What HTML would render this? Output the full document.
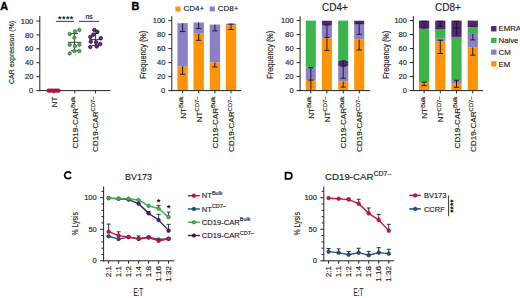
<!DOCTYPE html>
<html><head><meta charset="utf-8"><style>
html,body{margin:0;padding:0;background:#fff;overflow:hidden;width:520px;height:298px;}
svg{display:block;}
text{font-family:"Liberation Sans", sans-serif;}
text.n{stroke:#222;stroke-width:0.16px;}
</style></head><body>
<svg width="520" height="298" viewBox="0 0 520 298" font-family='"Liberation Sans", sans-serif'>
<rect width="520" height="298" fill="#fff"/>
<text x="0.20" y="9.50" font-size="10.8" text-anchor="start" font-weight="bold" fill="#000" stroke="#000" stroke-width="0.35">A</text>
<text x="131.60" y="9.60" font-size="10.8" text-anchor="start" font-weight="bold" fill="#000" stroke="#000" stroke-width="0.35">B</text>
<path d="M70.55,172.85 A3.45,3.45 0 1 0 70.55,177.65" fill="none" stroke="#000" stroke-width="1.75" stroke-linecap="round"/>
<path d="M285.55,172.7 H288.8 A3.05,3.05 0 0 1 288.8,178.8 H285.55 Z" fill="none" stroke="#000" stroke-width="1.75"/>
<line x1="39.80" y1="16.00" x2="39.80" y2="91.10" stroke="#222" stroke-width="1.0"/>
<line x1="39.30" y1="90.60" x2="110.40" y2="90.60" stroke="#222" stroke-width="1.0"/>
<line x1="36.30" y1="90.60" x2="39.80" y2="90.60" stroke="#222" stroke-width="1.0"/>
<text class="n" x="33.30" y="93.20" font-size="8.0" text-anchor="end" font-weight="normal" fill="#222" textLength="4.2" lengthAdjust="spacingAndGlyphs">0</text>
<line x1="36.30" y1="76.68" x2="39.80" y2="76.68" stroke="#222" stroke-width="1.0"/>
<text class="n" x="33.30" y="79.28" font-size="8.0" text-anchor="end" font-weight="normal" fill="#222" textLength="8.3" lengthAdjust="spacingAndGlyphs">20</text>
<line x1="36.30" y1="62.76" x2="39.80" y2="62.76" stroke="#222" stroke-width="1.0"/>
<text class="n" x="33.30" y="65.36" font-size="8.0" text-anchor="end" font-weight="normal" fill="#222" textLength="8.3" lengthAdjust="spacingAndGlyphs">40</text>
<line x1="36.30" y1="48.84" x2="39.80" y2="48.84" stroke="#222" stroke-width="1.0"/>
<text class="n" x="33.30" y="51.44" font-size="8.0" text-anchor="end" font-weight="normal" fill="#222" textLength="8.3" lengthAdjust="spacingAndGlyphs">60</text>
<line x1="36.30" y1="34.92" x2="39.80" y2="34.92" stroke="#222" stroke-width="1.0"/>
<text class="n" x="33.30" y="37.52" font-size="8.0" text-anchor="end" font-weight="normal" fill="#222" textLength="8.3" lengthAdjust="spacingAndGlyphs">80</text>
<line x1="36.30" y1="21.00" x2="39.80" y2="21.00" stroke="#222" stroke-width="1.0"/>
<text class="n" x="33.30" y="23.60" font-size="8.0" text-anchor="end" font-weight="normal" fill="#222" textLength="12.5" lengthAdjust="spacingAndGlyphs">100</text>
<line x1="53.90" y1="90.60" x2="53.90" y2="93.40" stroke="#222" stroke-width="1.0"/>
<line x1="74.80" y1="90.60" x2="74.80" y2="93.40" stroke="#222" stroke-width="1.0"/>
<line x1="95.40" y1="90.60" x2="95.40" y2="93.40" stroke="#222" stroke-width="1.0"/>
<text class="n" transform="translate(13.8,52.4) rotate(-90)" font-size="8.0" text-anchor="middle" fill="#222" textLength="63.0" lengthAdjust="spacingAndGlyphs">CAR expression (%)</text>
<text class="n" transform="translate(56.80,96.60) rotate(-90)" font-size="8.1" text-anchor="end" fill="#222">NT</text>
<text class="n" transform="translate(77.60,96.60) rotate(-90)" font-size="8.1" text-anchor="end" fill="#222">CD19-CAR<tspan font-size="5.83" dy="-2.92">Bulk</tspan></text>
<text class="n" transform="translate(98.20,96.60) rotate(-90)" font-size="8.1" text-anchor="end" fill="#222">CD19-CAR<tspan font-size="5.83" dy="-2.92">CD7–</tspan></text>
<line x1="55.90" y1="21.40" x2="73.90" y2="21.40" stroke="#222" stroke-width="0.9"/>
<line x1="79.00" y1="21.40" x2="99.20" y2="21.40" stroke="#222" stroke-width="0.9"/>
<text x="65.90" y="21.80" font-size="8.6" text-anchor="middle" font-weight="bold" fill="#222" letter-spacing="0.55">****</text>
<text class="n" x="89.10" y="18.60" font-size="7" text-anchor="middle" font-weight="normal" fill="#222" >ns</text>
<circle cx="48.50" cy="90.60" r="1.9" fill="#C8143E" stroke="#8a0f30" stroke-width="0.45"/>
<circle cx="50.50" cy="90.60" r="1.9" fill="#C8143E" stroke="#8a0f30" stroke-width="0.45"/>
<circle cx="52.50" cy="90.60" r="1.9" fill="#C8143E" stroke="#8a0f30" stroke-width="0.45"/>
<circle cx="54.50" cy="90.60" r="1.9" fill="#C8143E" stroke="#8a0f30" stroke-width="0.45"/>
<circle cx="56.50" cy="90.60" r="1.9" fill="#C8143E" stroke="#8a0f30" stroke-width="0.45"/>
<circle cx="58.50" cy="90.60" r="1.9" fill="#C8143E" stroke="#8a0f30" stroke-width="0.45"/>
<line x1="68.00" y1="42.30" x2="81.40" y2="42.30" stroke="#1a1a1a" stroke-width="0.85"/>
<line x1="74.40" y1="33.60" x2="74.40" y2="50.80" stroke="#1a1a1a" stroke-width="0.85"/>
<line x1="70.80" y1="33.60" x2="78.00" y2="33.60" stroke="#1a1a1a" stroke-width="0.85"/>
<line x1="70.80" y1="50.80" x2="78.00" y2="50.80" stroke="#1a1a1a" stroke-width="0.85"/>
<circle cx="79.40" cy="30.00" r="1.75" fill="#46AD50" stroke="#276a30" stroke-width="0.6"/>
<circle cx="75.00" cy="31.40" r="1.75" fill="#46AD50" stroke="#276a30" stroke-width="0.6"/>
<circle cx="69.70" cy="33.90" r="1.75" fill="#46AD50" stroke="#276a30" stroke-width="0.6"/>
<circle cx="74.40" cy="37.60" r="1.75" fill="#46AD50" stroke="#276a30" stroke-width="0.6"/>
<circle cx="69.70" cy="44.70" r="1.75" fill="#46AD50" stroke="#276a30" stroke-width="0.6"/>
<circle cx="75.00" cy="46.10" r="1.75" fill="#46AD50" stroke="#276a30" stroke-width="0.6"/>
<circle cx="79.40" cy="44.70" r="1.75" fill="#46AD50" stroke="#276a30" stroke-width="0.6"/>
<circle cx="74.40" cy="51.10" r="1.75" fill="#46AD50" stroke="#276a30" stroke-width="0.6"/>
<circle cx="79.40" cy="51.10" r="1.75" fill="#46AD50" stroke="#276a30" stroke-width="0.6"/>
<circle cx="69.70" cy="53.50" r="1.75" fill="#46AD50" stroke="#276a30" stroke-width="0.6"/>
<line x1="89.20" y1="39.60" x2="101.60" y2="39.60" stroke="#1a1a1a" stroke-width="0.85"/>
<line x1="95.40" y1="33.40" x2="95.40" y2="45.40" stroke="#1a1a1a" stroke-width="0.85"/>
<line x1="92.00" y1="33.40" x2="98.80" y2="33.40" stroke="#1a1a1a" stroke-width="0.85"/>
<line x1="92.00" y1="45.40" x2="98.80" y2="45.40" stroke="#1a1a1a" stroke-width="0.85"/>
<circle cx="94.40" cy="30.00" r="1.8" fill="#5E2A80" stroke="#2a0d3d" stroke-width="0.7"/>
<circle cx="97.30" cy="31.80" r="1.8" fill="#5E2A80" stroke="#2a0d3d" stroke-width="0.7"/>
<circle cx="93.20" cy="34.70" r="1.8" fill="#5E2A80" stroke="#2a0d3d" stroke-width="0.7"/>
<circle cx="90.30" cy="37.00" r="1.8" fill="#5E2A80" stroke="#2a0d3d" stroke-width="0.7"/>
<circle cx="100.80" cy="38.20" r="1.8" fill="#5E2A80" stroke="#2a0d3d" stroke-width="0.7"/>
<circle cx="90.80" cy="41.70" r="1.8" fill="#5E2A80" stroke="#2a0d3d" stroke-width="0.7"/>
<circle cx="96.10" cy="42.30" r="1.8" fill="#5E2A80" stroke="#2a0d3d" stroke-width="0.7"/>
<circle cx="100.20" cy="44.00" r="1.8" fill="#5E2A80" stroke="#2a0d3d" stroke-width="0.7"/>
<circle cx="90.30" cy="47.00" r="1.8" fill="#5E2A80" stroke="#2a0d3d" stroke-width="0.7"/>
<circle cx="96.70" cy="46.40" r="1.8" fill="#5E2A80" stroke="#2a0d3d" stroke-width="0.7"/>
<rect x="177.40" y="66.24" width="10.40" height="24.36" fill="#FF9306"/>
<rect x="177.40" y="23.19" width="10.40" height="43.05" fill="#8B80C6"/>
<line x1="182.60" y1="23.19" x2="182.60" y2="31.59" stroke="#1E1A33" stroke-width="1.0"/>
<line x1="180.00" y1="31.59" x2="185.20" y2="31.59" stroke="#1E1A33" stroke-width="1.0"/>
<line x1="182.60" y1="66.24" x2="182.60" y2="74.22" stroke="#1E1A33" stroke-width="1.0"/>
<line x1="180.00" y1="74.22" x2="185.20" y2="74.22" stroke="#1E1A33" stroke-width="1.0"/>
<rect x="193.50" y="33.55" width="10.40" height="57.05" fill="#FF9306"/>
<rect x="193.50" y="22.49" width="10.40" height="11.06" fill="#8B80C6"/>
<line x1="198.70" y1="22.49" x2="198.70" y2="28.58" stroke="#1E1A33" stroke-width="1.0"/>
<line x1="196.10" y1="28.58" x2="201.30" y2="28.58" stroke="#1E1A33" stroke-width="1.0"/>
<line x1="198.70" y1="33.55" x2="198.70" y2="40.27" stroke="#1E1A33" stroke-width="1.0"/>
<line x1="196.10" y1="40.27" x2="201.30" y2="40.27" stroke="#1E1A33" stroke-width="1.0"/>
<rect x="209.70" y="62.32" width="10.40" height="28.28" fill="#FF9306"/>
<rect x="209.70" y="24.59" width="10.40" height="37.73" fill="#8B80C6"/>
<line x1="214.90" y1="24.59" x2="214.90" y2="30.89" stroke="#1E1A33" stroke-width="1.0"/>
<line x1="212.30" y1="30.89" x2="217.50" y2="30.89" stroke="#1E1A33" stroke-width="1.0"/>
<line x1="214.90" y1="62.32" x2="214.90" y2="67.01" stroke="#1E1A33" stroke-width="1.0"/>
<line x1="212.30" y1="67.01" x2="217.50" y2="67.01" stroke="#1E1A33" stroke-width="1.0"/>
<rect x="225.80" y="25.50" width="10.40" height="65.10" fill="#FF9306"/>
<rect x="225.80" y="23.68" width="10.40" height="1.82" fill="#8B80C6"/>
<line x1="231.00" y1="24.10" x2="231.00" y2="29.49" stroke="#1E1A33" stroke-width="1.0"/>
<line x1="228.40" y1="24.10" x2="233.60" y2="24.10" stroke="#1E1A33" stroke-width="1.0"/>
<line x1="228.40" y1="29.49" x2="233.60" y2="29.49" stroke="#1E1A33" stroke-width="1.0"/>
<line x1="171.80" y1="16.20" x2="171.80" y2="91.10" stroke="#222" stroke-width="1.0"/>
<line x1="171.30" y1="90.60" x2="241.00" y2="90.60" stroke="#222" stroke-width="1.0"/>
<line x1="168.30" y1="90.60" x2="171.80" y2="90.60" stroke="#222" stroke-width="1.0"/>
<text class="n" x="165.30" y="93.20" font-size="8.0" text-anchor="end" font-weight="normal" fill="#222" textLength="4.2" lengthAdjust="spacingAndGlyphs">0</text>
<line x1="168.30" y1="76.60" x2="171.80" y2="76.60" stroke="#222" stroke-width="1.0"/>
<text class="n" x="165.30" y="79.20" font-size="8.0" text-anchor="end" font-weight="normal" fill="#222" textLength="8.3" lengthAdjust="spacingAndGlyphs">20</text>
<line x1="168.30" y1="62.60" x2="171.80" y2="62.60" stroke="#222" stroke-width="1.0"/>
<text class="n" x="165.30" y="65.20" font-size="8.0" text-anchor="end" font-weight="normal" fill="#222" textLength="8.3" lengthAdjust="spacingAndGlyphs">40</text>
<line x1="168.30" y1="48.60" x2="171.80" y2="48.60" stroke="#222" stroke-width="1.0"/>
<text class="n" x="165.30" y="51.20" font-size="8.0" text-anchor="end" font-weight="normal" fill="#222" textLength="8.3" lengthAdjust="spacingAndGlyphs">60</text>
<line x1="168.30" y1="34.60" x2="171.80" y2="34.60" stroke="#222" stroke-width="1.0"/>
<text class="n" x="165.30" y="37.20" font-size="8.0" text-anchor="end" font-weight="normal" fill="#222" textLength="8.3" lengthAdjust="spacingAndGlyphs">80</text>
<line x1="168.30" y1="20.60" x2="171.80" y2="20.60" stroke="#222" stroke-width="1.0"/>
<text class="n" x="165.30" y="23.20" font-size="8.0" text-anchor="end" font-weight="normal" fill="#222" textLength="12.5" lengthAdjust="spacingAndGlyphs">100</text>
<line x1="182.60" y1="90.60" x2="182.60" y2="93.40" stroke="#222" stroke-width="1.0"/>
<line x1="198.70" y1="90.60" x2="198.70" y2="93.40" stroke="#222" stroke-width="1.0"/>
<line x1="214.90" y1="90.60" x2="214.90" y2="93.40" stroke="#222" stroke-width="1.0"/>
<line x1="231.00" y1="90.60" x2="231.00" y2="93.40" stroke="#222" stroke-width="1.0"/>
<text class="n" transform="translate(145.60,54.7) rotate(-90)" font-size="8.4" text-anchor="middle" fill="#222" textLength="48.0" lengthAdjust="spacingAndGlyphs">Frequency (%)</text>
<text class="n" transform="translate(185.60,96.60) rotate(-90)" font-size="8.1" text-anchor="end" fill="#222">NT<tspan font-size="5.83" dy="-2.43">Bulk</tspan></text>
<text class="n" transform="translate(201.70,96.60) rotate(-90)" font-size="8.1" text-anchor="end" fill="#222">NT<tspan font-size="5.83" dy="-2.43">CD7–</tspan></text>
<text class="n" transform="translate(217.90,96.60) rotate(-90)" font-size="8.1" text-anchor="end" fill="#222">CD19-CAR<tspan font-size="5.83" dy="-2.43">Bulk</tspan></text>
<text class="n" transform="translate(234.00,96.60) rotate(-90)" font-size="8.1" text-anchor="end" fill="#222">CD19-CAR<tspan font-size="5.83" dy="-2.43">CD7–</tspan></text>
<rect x="175.40" y="6.50" width="5.10" height="4.90" fill="#FF9306"/>
<text class="n" x="183.50" y="11.30" font-size="8.0" text-anchor="start" font-weight="normal" fill="#222" >CD4+</text>
<rect x="209.70" y="6.50" width="5.10" height="4.90" fill="#8B80C6"/>
<text class="n" x="217.80" y="11.30" font-size="8.0" text-anchor="start" font-weight="normal" fill="#222" >CD8+</text>
<rect x="305.80" y="80.10" width="10.00" height="10.50" fill="#FF9306"/>
<rect x="305.80" y="67.71" width="10.00" height="12.39" fill="#8B80C6"/>
<rect x="305.80" y="20.60" width="10.00" height="47.11" fill="#3DB44A"/>
<line x1="310.80" y1="67.71" x2="310.80" y2="89.55" stroke="#1E1A33" stroke-width="1.0"/>
<line x1="308.20" y1="67.71" x2="313.40" y2="67.71" stroke="#1E1A33" stroke-width="1.0"/>
<line x1="310.80" y1="80.10" x2="310.80" y2="80.10" stroke="#1E1A33" stroke-width="1.0"/>
<line x1="308.20" y1="80.10" x2="313.40" y2="80.10" stroke="#1E1A33" stroke-width="1.0"/>
<rect x="321.90" y="37.40" width="10.00" height="53.20" fill="#FF9306"/>
<rect x="321.90" y="25.36" width="10.00" height="12.04" fill="#8B80C6"/>
<rect x="321.90" y="20.74" width="10.00" height="4.62" fill="#512474"/>
<line x1="326.90" y1="25.08" x2="326.90" y2="37.40" stroke="#1E1A33" stroke-width="1.0"/>
<line x1="324.30" y1="25.08" x2="329.50" y2="25.08" stroke="#1E1A33" stroke-width="1.0"/>
<line x1="324.30" y1="37.40" x2="329.50" y2="37.40" stroke="#1E1A33" stroke-width="1.0"/>
<line x1="326.90" y1="37.40" x2="326.90" y2="50.35" stroke="#1E1A33" stroke-width="1.0"/>
<line x1="324.30" y1="50.35" x2="329.50" y2="50.35" stroke="#1E1A33" stroke-width="1.0"/>
<rect x="338.20" y="81.50" width="10.00" height="9.10" fill="#FF9306"/>
<rect x="338.20" y="66.24" width="10.00" height="15.26" fill="#8B80C6"/>
<rect x="338.20" y="60.85" width="10.00" height="5.39" fill="#512474"/>
<rect x="338.20" y="20.60" width="10.00" height="40.25" fill="#3DB44A"/>
<line x1="343.20" y1="60.85" x2="343.20" y2="66.24" stroke="#1E1A33" stroke-width="1.0"/>
<line x1="340.60" y1="60.85" x2="345.80" y2="60.85" stroke="#1E1A33" stroke-width="1.0"/>
<line x1="343.20" y1="66.24" x2="343.20" y2="78.21" stroke="#1E1A33" stroke-width="1.0"/>
<line x1="340.60" y1="66.24" x2="345.80" y2="66.24" stroke="#1E1A33" stroke-width="1.0"/>
<line x1="340.60" y1="78.21" x2="345.80" y2="78.21" stroke="#1E1A33" stroke-width="1.0"/>
<line x1="343.20" y1="81.50" x2="343.20" y2="87.10" stroke="#1E1A33" stroke-width="1.0"/>
<line x1="340.60" y1="87.10" x2="345.80" y2="87.10" stroke="#1E1A33" stroke-width="1.0"/>
<rect x="354.20" y="39.50" width="10.00" height="51.10" fill="#FF9306"/>
<rect x="354.20" y="24.52" width="10.00" height="14.98" fill="#8B80C6"/>
<rect x="354.20" y="20.74" width="10.00" height="3.78" fill="#512474"/>
<line x1="359.20" y1="22.98" x2="359.20" y2="34.25" stroke="#1E1A33" stroke-width="1.0"/>
<line x1="356.60" y1="22.98" x2="361.80" y2="22.98" stroke="#1E1A33" stroke-width="1.0"/>
<line x1="356.60" y1="34.25" x2="361.80" y2="34.25" stroke="#1E1A33" stroke-width="1.0"/>
<line x1="359.20" y1="39.50" x2="359.20" y2="50.00" stroke="#1E1A33" stroke-width="1.0"/>
<line x1="356.60" y1="50.00" x2="361.80" y2="50.00" stroke="#1E1A33" stroke-width="1.0"/>
<line x1="300.10" y1="16.20" x2="300.10" y2="91.10" stroke="#222" stroke-width="1.0"/>
<line x1="299.60" y1="90.60" x2="370.40" y2="90.60" stroke="#222" stroke-width="1.0"/>
<line x1="296.60" y1="90.60" x2="300.10" y2="90.60" stroke="#222" stroke-width="1.0"/>
<text class="n" x="293.60" y="93.20" font-size="8.0" text-anchor="end" font-weight="normal" fill="#222" textLength="4.2" lengthAdjust="spacingAndGlyphs">0</text>
<line x1="296.60" y1="76.60" x2="300.10" y2="76.60" stroke="#222" stroke-width="1.0"/>
<text class="n" x="293.60" y="79.20" font-size="8.0" text-anchor="end" font-weight="normal" fill="#222" textLength="8.3" lengthAdjust="spacingAndGlyphs">20</text>
<line x1="296.60" y1="62.60" x2="300.10" y2="62.60" stroke="#222" stroke-width="1.0"/>
<text class="n" x="293.60" y="65.20" font-size="8.0" text-anchor="end" font-weight="normal" fill="#222" textLength="8.3" lengthAdjust="spacingAndGlyphs">40</text>
<line x1="296.60" y1="48.60" x2="300.10" y2="48.60" stroke="#222" stroke-width="1.0"/>
<text class="n" x="293.60" y="51.20" font-size="8.0" text-anchor="end" font-weight="normal" fill="#222" textLength="8.3" lengthAdjust="spacingAndGlyphs">60</text>
<line x1="296.60" y1="34.60" x2="300.10" y2="34.60" stroke="#222" stroke-width="1.0"/>
<text class="n" x="293.60" y="37.20" font-size="8.0" text-anchor="end" font-weight="normal" fill="#222" textLength="8.3" lengthAdjust="spacingAndGlyphs">80</text>
<line x1="296.60" y1="20.60" x2="300.10" y2="20.60" stroke="#222" stroke-width="1.0"/>
<text class="n" x="293.60" y="23.20" font-size="8.0" text-anchor="end" font-weight="normal" fill="#222" textLength="12.5" lengthAdjust="spacingAndGlyphs">100</text>
<line x1="310.80" y1="90.60" x2="310.80" y2="93.40" stroke="#222" stroke-width="1.0"/>
<line x1="326.90" y1="90.60" x2="326.90" y2="93.40" stroke="#222" stroke-width="1.0"/>
<line x1="343.20" y1="90.60" x2="343.20" y2="93.40" stroke="#222" stroke-width="1.0"/>
<line x1="359.20" y1="90.60" x2="359.20" y2="93.40" stroke="#222" stroke-width="1.0"/>
<text class="n" transform="translate(272.60,54.7) rotate(-90)" font-size="8.4" text-anchor="middle" fill="#222" textLength="48.0" lengthAdjust="spacingAndGlyphs">Frequency (%)</text>
<text class="n" transform="translate(313.80,96.60) rotate(-90)" font-size="8.1" text-anchor="end" fill="#222">NT<tspan font-size="5.83" dy="-2.43">Bulk</tspan></text>
<text class="n" transform="translate(329.90,96.60) rotate(-90)" font-size="8.1" text-anchor="end" fill="#222">NT<tspan font-size="5.83" dy="-2.43">CD7–</tspan></text>
<text class="n" transform="translate(346.20,96.60) rotate(-90)" font-size="8.1" text-anchor="end" fill="#222">CD19-CAR<tspan font-size="5.83" dy="-2.43">Bulk</tspan></text>
<text class="n" transform="translate(362.20,96.60) rotate(-90)" font-size="8.1" text-anchor="end" fill="#222">CD19-CAR<tspan font-size="5.83" dy="-2.43">CD7–</tspan></text>
<text class="n" x="335.00" y="10.60" font-size="10.0" text-anchor="middle" font-weight="normal" fill="#222" >CD4+</text>
<rect x="419.00" y="82.20" width="10.20" height="8.40" fill="#FF9306"/>
<rect x="419.00" y="28.65" width="10.20" height="53.55" fill="#3DB44A"/>
<rect x="419.00" y="20.60" width="10.20" height="8.05" fill="#512474"/>
<line x1="424.10" y1="21.30" x2="424.10" y2="27.95" stroke="#1E1A33" stroke-width="1.0"/>
<line x1="421.50" y1="21.30" x2="426.70" y2="21.30" stroke="#1E1A33" stroke-width="1.0"/>
<line x1="421.50" y1="27.95" x2="426.70" y2="27.95" stroke="#1E1A33" stroke-width="1.0"/>
<line x1="424.10" y1="82.20" x2="424.10" y2="85.70" stroke="#1E1A33" stroke-width="1.0"/>
<line x1="421.50" y1="82.20" x2="426.70" y2="82.20" stroke="#1E1A33" stroke-width="1.0"/>
<line x1="421.50" y1="85.70" x2="426.70" y2="85.70" stroke="#1E1A33" stroke-width="1.0"/>
<rect x="435.20" y="41.18" width="10.20" height="49.42" fill="#FF9306"/>
<rect x="435.20" y="38.59" width="10.20" height="2.59" fill="#8B80C6"/>
<rect x="435.20" y="29.49" width="10.20" height="9.10" fill="#3DB44A"/>
<rect x="435.20" y="20.60" width="10.20" height="8.89" fill="#512474"/>
<line x1="440.30" y1="21.30" x2="440.30" y2="26.20" stroke="#1E1A33" stroke-width="1.0"/>
<line x1="437.70" y1="21.30" x2="442.90" y2="21.30" stroke="#1E1A33" stroke-width="1.0"/>
<line x1="437.70" y1="26.20" x2="442.90" y2="26.20" stroke="#1E1A33" stroke-width="1.0"/>
<line x1="440.30" y1="40.20" x2="440.30" y2="53.50" stroke="#1E1A33" stroke-width="1.0"/>
<line x1="437.70" y1="40.20" x2="442.90" y2="40.20" stroke="#1E1A33" stroke-width="1.0"/>
<line x1="437.70" y1="53.50" x2="442.90" y2="53.50" stroke="#1E1A33" stroke-width="1.0"/>
<rect x="451.40" y="83.74" width="10.20" height="6.86" fill="#FF9306"/>
<rect x="451.40" y="80.31" width="10.20" height="3.43" fill="#8B80C6"/>
<rect x="451.40" y="36.91" width="10.20" height="43.40" fill="#3DB44A"/>
<rect x="451.40" y="20.60" width="10.20" height="16.31" fill="#512474"/>
<line x1="456.50" y1="21.30" x2="456.50" y2="35.30" stroke="#1E1A33" stroke-width="1.0"/>
<line x1="453.90" y1="21.30" x2="459.10" y2="21.30" stroke="#1E1A33" stroke-width="1.0"/>
<line x1="456.50" y1="27.95" x2="456.50" y2="27.95" stroke="#1E1A33" stroke-width="1.0"/>
<line x1="453.90" y1="27.95" x2="459.10" y2="27.95" stroke="#1E1A33" stroke-width="1.0"/>
<line x1="456.50" y1="80.31" x2="456.50" y2="87.24" stroke="#1E1A33" stroke-width="1.0"/>
<line x1="453.90" y1="80.31" x2="459.10" y2="80.31" stroke="#1E1A33" stroke-width="1.0"/>
<line x1="453.90" y1="87.24" x2="459.10" y2="87.24" stroke="#1E1A33" stroke-width="1.0"/>
<rect x="467.70" y="47.48" width="10.20" height="43.12" fill="#FF9306"/>
<rect x="467.70" y="33.90" width="10.20" height="13.58" fill="#8B80C6"/>
<rect x="467.70" y="26.97" width="10.20" height="6.93" fill="#3DB44A"/>
<rect x="467.70" y="20.60" width="10.20" height="6.37" fill="#512474"/>
<line x1="472.80" y1="26.27" x2="472.80" y2="26.27" stroke="#1E1A33" stroke-width="1.0"/>
<line x1="470.20" y1="26.27" x2="475.40" y2="26.27" stroke="#1E1A33" stroke-width="1.0"/>
<line x1="472.80" y1="33.90" x2="472.80" y2="39.92" stroke="#1E1A33" stroke-width="1.0"/>
<line x1="470.20" y1="39.92" x2="475.40" y2="39.92" stroke="#1E1A33" stroke-width="1.0"/>
<line x1="472.80" y1="47.48" x2="472.80" y2="55.11" stroke="#1E1A33" stroke-width="1.0"/>
<line x1="470.20" y1="55.11" x2="475.40" y2="55.11" stroke="#1E1A33" stroke-width="1.0"/>
<line x1="413.40" y1="16.20" x2="413.40" y2="91.10" stroke="#222" stroke-width="1.0"/>
<line x1="412.90" y1="90.60" x2="483.00" y2="90.60" stroke="#222" stroke-width="1.0"/>
<line x1="409.90" y1="90.60" x2="413.40" y2="90.60" stroke="#222" stroke-width="1.0"/>
<text class="n" x="406.90" y="93.20" font-size="8.0" text-anchor="end" font-weight="normal" fill="#222" textLength="4.2" lengthAdjust="spacingAndGlyphs">0</text>
<line x1="409.90" y1="76.60" x2="413.40" y2="76.60" stroke="#222" stroke-width="1.0"/>
<text class="n" x="406.90" y="79.20" font-size="8.0" text-anchor="end" font-weight="normal" fill="#222" textLength="8.3" lengthAdjust="spacingAndGlyphs">20</text>
<line x1="409.90" y1="62.60" x2="413.40" y2="62.60" stroke="#222" stroke-width="1.0"/>
<text class="n" x="406.90" y="65.20" font-size="8.0" text-anchor="end" font-weight="normal" fill="#222" textLength="8.3" lengthAdjust="spacingAndGlyphs">40</text>
<line x1="409.90" y1="48.60" x2="413.40" y2="48.60" stroke="#222" stroke-width="1.0"/>
<text class="n" x="406.90" y="51.20" font-size="8.0" text-anchor="end" font-weight="normal" fill="#222" textLength="8.3" lengthAdjust="spacingAndGlyphs">60</text>
<line x1="409.90" y1="34.60" x2="413.40" y2="34.60" stroke="#222" stroke-width="1.0"/>
<text class="n" x="406.90" y="37.20" font-size="8.0" text-anchor="end" font-weight="normal" fill="#222" textLength="8.3" lengthAdjust="spacingAndGlyphs">80</text>
<line x1="409.90" y1="20.60" x2="413.40" y2="20.60" stroke="#222" stroke-width="1.0"/>
<text class="n" x="406.90" y="23.20" font-size="8.0" text-anchor="end" font-weight="normal" fill="#222" textLength="12.5" lengthAdjust="spacingAndGlyphs">100</text>
<line x1="424.10" y1="90.60" x2="424.10" y2="93.40" stroke="#222" stroke-width="1.0"/>
<line x1="440.30" y1="90.60" x2="440.30" y2="93.40" stroke="#222" stroke-width="1.0"/>
<line x1="456.50" y1="90.60" x2="456.50" y2="93.40" stroke="#222" stroke-width="1.0"/>
<line x1="472.80" y1="90.60" x2="472.80" y2="93.40" stroke="#222" stroke-width="1.0"/>
<text class="n" transform="translate(389.00,54.7) rotate(-90)" font-size="8.4" text-anchor="middle" fill="#222" textLength="48.0" lengthAdjust="spacingAndGlyphs">Frequency (%)</text>
<text class="n" transform="translate(427.10,96.60) rotate(-90)" font-size="8.1" text-anchor="end" fill="#222">NT<tspan font-size="5.83" dy="-2.43">Bulk</tspan></text>
<text class="n" transform="translate(443.30,96.60) rotate(-90)" font-size="8.1" text-anchor="end" fill="#222">NT<tspan font-size="5.83" dy="-2.43">CD7–</tspan></text>
<text class="n" transform="translate(459.50,96.60) rotate(-90)" font-size="8.1" text-anchor="end" fill="#222">CD19-CAR<tspan font-size="5.83" dy="-2.43">Bulk</tspan></text>
<text class="n" transform="translate(475.80,96.60) rotate(-90)" font-size="8.1" text-anchor="end" fill="#222">CD19-CAR<tspan font-size="5.83" dy="-2.43">CD7–</tspan></text>
<text class="n" x="448.00" y="10.60" font-size="10.0" text-anchor="middle" font-weight="normal" fill="#222" >CD8+</text>
<rect x="491.10" y="26.10" width="5.40" height="5.30" fill="#512474"/>
<text class="n" x="498.50" y="31.40" font-size="7.8" text-anchor="start" font-weight="normal" fill="#222" >EMRA</text>
<rect x="491.10" y="37.80" width="5.40" height="5.30" fill="#3DB44A"/>
<text class="n" x="498.50" y="43.10" font-size="7.8" text-anchor="start" font-weight="normal" fill="#222" >Naive</text>
<rect x="491.10" y="49.50" width="5.40" height="5.30" fill="#8B80C6"/>
<text class="n" x="498.50" y="54.80" font-size="7.8" text-anchor="start" font-weight="normal" fill="#222" >CM</text>
<rect x="491.10" y="61.20" width="5.40" height="5.30" fill="#FF9306"/>
<text class="n" x="498.50" y="66.50" font-size="7.8" text-anchor="start" font-weight="normal" fill="#222" >EM</text>
<line x1="103.60" y1="186.50" x2="103.60" y2="261.30" stroke="#222" stroke-width="1.0"/>
<line x1="103.10" y1="260.80" x2="174.40" y2="260.80" stroke="#222" stroke-width="1.0"/>
<line x1="100.10" y1="260.80" x2="103.60" y2="260.80" stroke="#222" stroke-width="1.0"/>
<line x1="101.40" y1="254.49" x2="103.60" y2="254.49" stroke="#222" stroke-width="1.0"/>
<line x1="101.40" y1="248.18" x2="103.60" y2="248.18" stroke="#222" stroke-width="1.0"/>
<line x1="101.40" y1="241.87" x2="103.60" y2="241.87" stroke="#222" stroke-width="1.0"/>
<line x1="101.40" y1="235.56" x2="103.60" y2="235.56" stroke="#222" stroke-width="1.0"/>
<line x1="100.10" y1="229.25" x2="103.60" y2="229.25" stroke="#222" stroke-width="1.0"/>
<line x1="101.40" y1="222.94" x2="103.60" y2="222.94" stroke="#222" stroke-width="1.0"/>
<line x1="101.40" y1="216.63" x2="103.60" y2="216.63" stroke="#222" stroke-width="1.0"/>
<line x1="101.40" y1="210.32" x2="103.60" y2="210.32" stroke="#222" stroke-width="1.0"/>
<line x1="101.40" y1="204.01" x2="103.60" y2="204.01" stroke="#222" stroke-width="1.0"/>
<line x1="100.10" y1="197.70" x2="103.60" y2="197.70" stroke="#222" stroke-width="1.0"/>
<line x1="101.40" y1="191.39" x2="103.60" y2="191.39" stroke="#222" stroke-width="1.0"/>
<text class="n" x="96.70" y="263.40" font-size="8.0" text-anchor="end" font-weight="normal" fill="#222" textLength="4.2" lengthAdjust="spacingAndGlyphs">0</text>
<text class="n" x="96.70" y="231.85" font-size="8.0" text-anchor="end" font-weight="normal" fill="#222" textLength="8.3" lengthAdjust="spacingAndGlyphs">50</text>
<text class="n" x="96.70" y="200.30" font-size="8.0" text-anchor="end" font-weight="normal" fill="#222" textLength="12.5" lengthAdjust="spacingAndGlyphs">100</text>
<line x1="108.60" y1="260.80" x2="108.60" y2="263.60" stroke="#222" stroke-width="1.0"/>
<line x1="118.60" y1="260.80" x2="118.60" y2="263.60" stroke="#222" stroke-width="1.0"/>
<line x1="128.60" y1="260.80" x2="128.60" y2="263.60" stroke="#222" stroke-width="1.0"/>
<line x1="138.60" y1="260.80" x2="138.60" y2="263.60" stroke="#222" stroke-width="1.0"/>
<line x1="148.60" y1="260.80" x2="148.60" y2="263.60" stroke="#222" stroke-width="1.0"/>
<line x1="158.60" y1="260.80" x2="158.60" y2="263.60" stroke="#222" stroke-width="1.0"/>
<line x1="168.60" y1="260.80" x2="168.60" y2="263.60" stroke="#222" stroke-width="1.0"/>
<text class="n" transform="translate(110.90,266.00) rotate(-90)" font-size="8.1" text-anchor="end" fill="#222">2:1</text>
<text class="n" transform="translate(120.90,266.00) rotate(-90)" font-size="8.1" text-anchor="end" fill="#222">1:1</text>
<text class="n" transform="translate(130.90,266.00) rotate(-90)" font-size="8.1" text-anchor="end" fill="#222">1:2</text>
<text class="n" transform="translate(140.90,266.00) rotate(-90)" font-size="8.1" text-anchor="end" fill="#222">1:4</text>
<text class="n" transform="translate(150.90,266.00) rotate(-90)" font-size="8.1" text-anchor="end" fill="#222">1:8</text>
<text class="n" transform="translate(160.90,266.00) rotate(-90)" font-size="8.1" text-anchor="end" fill="#222">1:16</text>
<text class="n" transform="translate(170.90,266.00) rotate(-90)" font-size="8.1" text-anchor="end" fill="#222">1:32</text>
<text class="n" x="138.30" y="295.80" font-size="10.2" text-anchor="middle" font-weight="normal" fill="#222" textLength="9.6" lengthAdjust="spacingAndGlyphs">E:T</text>
<text class="n" transform="translate(78.20,223.8) rotate(-90)" font-size="8.8" text-anchor="middle" fill="#222" textLength="23.4" lengthAdjust="spacingAndGlyphs">% Lysis</text>
<polyline points="108.60,236.25 118.60,239.09 128.60,237.14 138.60,238.65 148.60,237.14 158.60,239.54 168.60,238.65" fill="none" stroke="#1F5082" stroke-width="1.4"/>
<circle cx="108.60" cy="236.25" r="1.85" fill="#1F5082" stroke="#153656" stroke-width="0.5"/>
<circle cx="118.60" cy="239.09" r="1.85" fill="#1F5082" stroke="#153656" stroke-width="0.5"/>
<circle cx="128.60" cy="237.14" r="1.85" fill="#1F5082" stroke="#153656" stroke-width="0.5"/>
<circle cx="138.60" cy="238.65" r="1.85" fill="#1F5082" stroke="#153656" stroke-width="0.5"/>
<circle cx="148.60" cy="237.14" r="1.85" fill="#1F5082" stroke="#153656" stroke-width="0.5"/>
<circle cx="158.60" cy="239.54" r="1.85" fill="#1F5082" stroke="#153656" stroke-width="0.5"/>
<circle cx="168.60" cy="238.65" r="1.85" fill="#1F5082" stroke="#153656" stroke-width="0.5"/>
<line x1="108.60" y1="231.65" x2="108.60" y2="224.08" stroke="#1E1A33" stroke-width="0.9"/>
<line x1="106.60" y1="224.08" x2="110.60" y2="224.08" stroke="#1E1A33" stroke-width="0.9"/>
<line x1="118.60" y1="235.62" x2="118.60" y2="231.84" stroke="#1E1A33" stroke-width="0.9"/>
<line x1="116.60" y1="231.84" x2="120.60" y2="231.84" stroke="#1E1A33" stroke-width="0.9"/>
<line x1="138.60" y1="239.03" x2="138.60" y2="235.88" stroke="#1E1A33" stroke-width="0.9"/>
<line x1="136.60" y1="235.88" x2="140.60" y2="235.88" stroke="#1E1A33" stroke-width="0.9"/>
<line x1="148.60" y1="237.58" x2="148.60" y2="236.32" stroke="#1E1A33" stroke-width="0.9"/>
<line x1="146.60" y1="236.32" x2="150.60" y2="236.32" stroke="#1E1A33" stroke-width="0.9"/>
<line x1="168.60" y1="239.03" x2="168.60" y2="237.77" stroke="#1E1A33" stroke-width="0.9"/>
<line x1="166.60" y1="237.77" x2="170.60" y2="237.77" stroke="#1E1A33" stroke-width="0.9"/>
<polyline points="108.60,231.65 118.60,235.62 128.60,236.95 138.60,239.03 148.60,237.58 158.60,240.86 168.60,239.03" fill="none" stroke="#C8143E" stroke-width="1.4"/>
<circle cx="108.60" cy="231.65" r="1.85" fill="#C8143E" stroke="#8C0C2C" stroke-width="0.5"/>
<circle cx="118.60" cy="235.62" r="1.85" fill="#C8143E" stroke="#8C0C2C" stroke-width="0.5"/>
<circle cx="128.60" cy="236.95" r="1.85" fill="#C8143E" stroke="#8C0C2C" stroke-width="0.5"/>
<circle cx="138.60" cy="239.03" r="1.85" fill="#C8143E" stroke="#8C0C2C" stroke-width="0.5"/>
<circle cx="148.60" cy="237.58" r="1.85" fill="#C8143E" stroke="#8C0C2C" stroke-width="0.5"/>
<circle cx="158.60" cy="240.86" r="1.85" fill="#C8143E" stroke="#8C0C2C" stroke-width="0.5"/>
<circle cx="168.60" cy="239.03" r="1.85" fill="#C8143E" stroke="#8C0C2C" stroke-width="0.5"/>
<line x1="148.60" y1="213.35" x2="148.60" y2="211.46" stroke="#1E1A33" stroke-width="0.9"/>
<line x1="146.60" y1="211.46" x2="150.60" y2="211.46" stroke="#1E1A33" stroke-width="0.9"/>
<line x1="158.60" y1="220.04" x2="158.60" y2="214.36" stroke="#1E1A33" stroke-width="0.9"/>
<line x1="156.60" y1="214.36" x2="160.60" y2="214.36" stroke="#1E1A33" stroke-width="0.9"/>
<line x1="168.60" y1="230.64" x2="168.60" y2="224.33" stroke="#1E1A33" stroke-width="0.9"/>
<line x1="166.60" y1="224.33" x2="170.60" y2="224.33" stroke="#1E1A33" stroke-width="0.9"/>
<polyline points="108.60,198.08 118.60,198.71 128.60,199.59 138.60,203.69 148.60,213.35 158.60,220.04 168.60,230.64" fill="none" stroke="#47206A" stroke-width="1.4"/>
<circle cx="108.60" cy="198.08" r="1.85" fill="#47206A" stroke="#2A1040" stroke-width="0.5"/>
<circle cx="118.60" cy="198.71" r="1.85" fill="#47206A" stroke="#2A1040" stroke-width="0.5"/>
<circle cx="128.60" cy="199.59" r="1.85" fill="#47206A" stroke="#2A1040" stroke-width="0.5"/>
<circle cx="138.60" cy="203.69" r="1.85" fill="#47206A" stroke="#2A1040" stroke-width="0.5"/>
<circle cx="148.60" cy="213.35" r="1.85" fill="#47206A" stroke="#2A1040" stroke-width="0.5"/>
<circle cx="158.60" cy="220.04" r="1.85" fill="#47206A" stroke="#2A1040" stroke-width="0.5"/>
<circle cx="168.60" cy="230.64" r="1.85" fill="#47206A" stroke="#2A1040" stroke-width="0.5"/>
<line x1="158.60" y1="208.49" x2="158.60" y2="205.34" stroke="#1E1A33" stroke-width="0.9"/>
<line x1="156.60" y1="205.34" x2="160.60" y2="205.34" stroke="#1E1A33" stroke-width="0.9"/>
<line x1="168.60" y1="217.13" x2="168.60" y2="212.09" stroke="#1E1A33" stroke-width="0.9"/>
<line x1="166.60" y1="212.09" x2="170.60" y2="212.09" stroke="#1E1A33" stroke-width="0.9"/>
<polyline points="108.60,198.08 118.60,198.71 128.60,198.71 138.60,200.03 148.60,205.90 158.60,208.49 168.60,217.13" fill="none" stroke="#3DB44A" stroke-width="1.4"/>
<circle cx="108.60" cy="198.08" r="1.85" fill="#3DB44A" stroke="#2B7A35" stroke-width="0.5"/>
<circle cx="118.60" cy="198.71" r="1.85" fill="#3DB44A" stroke="#2B7A35" stroke-width="0.5"/>
<circle cx="128.60" cy="198.71" r="1.85" fill="#3DB44A" stroke="#2B7A35" stroke-width="0.5"/>
<circle cx="138.60" cy="200.03" r="1.85" fill="#3DB44A" stroke="#2B7A35" stroke-width="0.5"/>
<circle cx="148.60" cy="205.90" r="1.85" fill="#3DB44A" stroke="#2B7A35" stroke-width="0.5"/>
<circle cx="158.60" cy="208.49" r="1.85" fill="#3DB44A" stroke="#2B7A35" stroke-width="0.5"/>
<circle cx="168.60" cy="217.13" r="1.85" fill="#3DB44A" stroke="#2B7A35" stroke-width="0.5"/>
<text class="n" x="138.50" y="180.00" font-size="9.9" text-anchor="middle" font-weight="normal" fill="#222" textLength="26.8" lengthAdjust="spacingAndGlyphs">BV173</text>
<text x="158.50" y="205.00" font-size="9.5" text-anchor="middle" font-weight="bold" fill="#111" >*</text>
<text x="168.50" y="211.00" font-size="9.5" text-anchor="middle" font-weight="bold" fill="#111" >*</text>
<line x1="187.80" y1="195.70" x2="199.90" y2="195.70" stroke="#C8143E" stroke-width="1.4"/>
<circle cx="193.90" cy="195.70" r="1.85" fill="#C8143E" stroke="#8C0C2C" stroke-width="0.5"/>
<text class="n" x="201.80" y="198.40" font-size="7.6" text-anchor="start" font-weight="normal" fill="#222" >NT<tspan font-size="5.47" dy="-3.65">Bulk</tspan></text>
<line x1="187.80" y1="208.97" x2="199.90" y2="208.97" stroke="#1F5082" stroke-width="1.4"/>
<circle cx="193.90" cy="208.97" r="1.85" fill="#1F5082" stroke="#153656" stroke-width="0.5"/>
<text class="n" x="201.80" y="211.67" font-size="7.6" text-anchor="start" font-weight="normal" fill="#222" >NT<tspan font-size="5.47" dy="-3.65">CD7–</tspan></text>
<line x1="187.80" y1="222.24" x2="199.90" y2="222.24" stroke="#3DB44A" stroke-width="1.4"/>
<circle cx="193.90" cy="222.24" r="1.85" fill="#3DB44A" stroke="#2B7A35" stroke-width="0.5"/>
<text class="n" x="201.80" y="224.94" font-size="7.6" text-anchor="start" font-weight="normal" fill="#222" >CD19-CAR<tspan font-size="5.47" dy="-3.65">Bulk</tspan></text>
<line x1="187.80" y1="235.51" x2="199.90" y2="235.51" stroke="#47206A" stroke-width="1.4"/>
<circle cx="193.90" cy="235.51" r="1.85" fill="#47206A" stroke="#2A1040" stroke-width="0.5"/>
<text class="n" x="201.80" y="238.21" font-size="7.6" text-anchor="start" font-weight="normal" fill="#222" >CD19-CAR<tspan font-size="5.47" dy="-3.65">CD7–</tspan></text>
<line x1="323.80" y1="186.50" x2="323.80" y2="261.30" stroke="#222" stroke-width="1.0"/>
<line x1="323.30" y1="260.80" x2="394.20" y2="260.80" stroke="#222" stroke-width="1.0"/>
<line x1="320.30" y1="260.80" x2="323.80" y2="260.80" stroke="#222" stroke-width="1.0"/>
<line x1="321.60" y1="254.49" x2="323.80" y2="254.49" stroke="#222" stroke-width="1.0"/>
<line x1="321.60" y1="248.18" x2="323.80" y2="248.18" stroke="#222" stroke-width="1.0"/>
<line x1="321.60" y1="241.87" x2="323.80" y2="241.87" stroke="#222" stroke-width="1.0"/>
<line x1="321.60" y1="235.56" x2="323.80" y2="235.56" stroke="#222" stroke-width="1.0"/>
<line x1="320.30" y1="229.25" x2="323.80" y2="229.25" stroke="#222" stroke-width="1.0"/>
<line x1="321.60" y1="222.94" x2="323.80" y2="222.94" stroke="#222" stroke-width="1.0"/>
<line x1="321.60" y1="216.63" x2="323.80" y2="216.63" stroke="#222" stroke-width="1.0"/>
<line x1="321.60" y1="210.32" x2="323.80" y2="210.32" stroke="#222" stroke-width="1.0"/>
<line x1="321.60" y1="204.01" x2="323.80" y2="204.01" stroke="#222" stroke-width="1.0"/>
<line x1="320.30" y1="197.70" x2="323.80" y2="197.70" stroke="#222" stroke-width="1.0"/>
<line x1="321.60" y1="191.39" x2="323.80" y2="191.39" stroke="#222" stroke-width="1.0"/>
<text class="n" x="316.90" y="263.40" font-size="8.0" text-anchor="end" font-weight="normal" fill="#222" textLength="4.2" lengthAdjust="spacingAndGlyphs">0</text>
<text class="n" x="316.90" y="231.85" font-size="8.0" text-anchor="end" font-weight="normal" fill="#222" textLength="8.3" lengthAdjust="spacingAndGlyphs">50</text>
<text class="n" x="316.90" y="200.30" font-size="8.0" text-anchor="end" font-weight="normal" fill="#222" textLength="12.5" lengthAdjust="spacingAndGlyphs">100</text>
<line x1="328.60" y1="260.80" x2="328.60" y2="263.60" stroke="#222" stroke-width="1.0"/>
<line x1="338.63" y1="260.80" x2="338.63" y2="263.60" stroke="#222" stroke-width="1.0"/>
<line x1="348.66" y1="260.80" x2="348.66" y2="263.60" stroke="#222" stroke-width="1.0"/>
<line x1="358.69" y1="260.80" x2="358.69" y2="263.60" stroke="#222" stroke-width="1.0"/>
<line x1="368.72" y1="260.80" x2="368.72" y2="263.60" stroke="#222" stroke-width="1.0"/>
<line x1="378.75" y1="260.80" x2="378.75" y2="263.60" stroke="#222" stroke-width="1.0"/>
<line x1="388.78" y1="260.80" x2="388.78" y2="263.60" stroke="#222" stroke-width="1.0"/>
<text class="n" transform="translate(330.90,266.00) rotate(-90)" font-size="8.1" text-anchor="end" fill="#222">2:1</text>
<text class="n" transform="translate(340.93,266.00) rotate(-90)" font-size="8.1" text-anchor="end" fill="#222">1:1</text>
<text class="n" transform="translate(350.96,266.00) rotate(-90)" font-size="8.1" text-anchor="end" fill="#222">1:2</text>
<text class="n" transform="translate(360.99,266.00) rotate(-90)" font-size="8.1" text-anchor="end" fill="#222">1:4</text>
<text class="n" transform="translate(371.02,266.00) rotate(-90)" font-size="8.1" text-anchor="end" fill="#222">1:8</text>
<text class="n" transform="translate(381.05,266.00) rotate(-90)" font-size="8.1" text-anchor="end" fill="#222">1:16</text>
<text class="n" transform="translate(391.08,266.00) rotate(-90)" font-size="8.1" text-anchor="end" fill="#222">1:32</text>
<text class="n" x="358.39" y="295.80" font-size="10.2" text-anchor="middle" font-weight="normal" fill="#222" textLength="9.6" lengthAdjust="spacingAndGlyphs">E:T</text>
<text class="n" transform="translate(299.60,223.8) rotate(-90)" font-size="8.8" text-anchor="middle" fill="#222" textLength="23.4" lengthAdjust="spacingAndGlyphs">% Lysis</text>
<line x1="328.60" y1="251.65" x2="328.60" y2="248.50" stroke="#1E1A33" stroke-width="0.9"/>
<line x1="326.60" y1="248.50" x2="330.60" y2="248.50" stroke="#1E1A33" stroke-width="0.9"/>
<line x1="338.63" y1="252.66" x2="338.63" y2="248.87" stroke="#1E1A33" stroke-width="0.9"/>
<line x1="336.63" y1="248.87" x2="340.63" y2="248.87" stroke="#1E1A33" stroke-width="0.9"/>
<line x1="348.66" y1="254.68" x2="348.66" y2="251.52" stroke="#1E1A33" stroke-width="0.9"/>
<line x1="346.66" y1="251.52" x2="350.66" y2="251.52" stroke="#1E1A33" stroke-width="0.9"/>
<line x1="358.69" y1="252.66" x2="358.69" y2="248.24" stroke="#1E1A33" stroke-width="0.9"/>
<line x1="356.69" y1="248.24" x2="360.69" y2="248.24" stroke="#1E1A33" stroke-width="0.9"/>
<line x1="368.72" y1="255.18" x2="368.72" y2="251.40" stroke="#1E1A33" stroke-width="0.9"/>
<line x1="366.72" y1="251.40" x2="370.72" y2="251.40" stroke="#1E1A33" stroke-width="0.9"/>
<line x1="378.75" y1="252.66" x2="378.75" y2="247.61" stroke="#1E1A33" stroke-width="0.9"/>
<line x1="376.75" y1="247.61" x2="380.75" y2="247.61" stroke="#1E1A33" stroke-width="0.9"/>
<line x1="388.78" y1="253.67" x2="388.78" y2="249.25" stroke="#1E1A33" stroke-width="0.9"/>
<line x1="386.78" y1="249.25" x2="390.78" y2="249.25" stroke="#1E1A33" stroke-width="0.9"/>
<polyline points="328.60,251.65 338.63,252.66 348.66,254.68 358.69,252.66 368.72,255.18 378.75,252.66 388.78,253.67" fill="none" stroke="#1F5082" stroke-width="1.4"/>
<circle cx="328.60" cy="251.65" r="1.85" fill="#1F5082" stroke="#153656" stroke-width="0.5"/>
<circle cx="338.63" cy="252.66" r="1.85" fill="#1F5082" stroke="#153656" stroke-width="0.5"/>
<circle cx="348.66" cy="254.68" r="1.85" fill="#1F5082" stroke="#153656" stroke-width="0.5"/>
<circle cx="358.69" cy="252.66" r="1.85" fill="#1F5082" stroke="#153656" stroke-width="0.5"/>
<circle cx="368.72" cy="255.18" r="1.85" fill="#1F5082" stroke="#153656" stroke-width="0.5"/>
<circle cx="378.75" cy="252.66" r="1.85" fill="#1F5082" stroke="#153656" stroke-width="0.5"/>
<circle cx="388.78" cy="253.67" r="1.85" fill="#1F5082" stroke="#153656" stroke-width="0.5"/>
<line x1="348.66" y1="199.59" x2="348.66" y2="198.02" stroke="#1E1A33" stroke-width="0.9"/>
<line x1="346.66" y1="198.02" x2="350.66" y2="198.02" stroke="#1E1A33" stroke-width="0.9"/>
<line x1="358.69" y1="203.69" x2="358.69" y2="199.28" stroke="#1E1A33" stroke-width="0.9"/>
<line x1="356.69" y1="199.28" x2="360.69" y2="199.28" stroke="#1E1A33" stroke-width="0.9"/>
<line x1="368.72" y1="213.35" x2="368.72" y2="207.99" stroke="#1E1A33" stroke-width="0.9"/>
<line x1="366.72" y1="207.99" x2="370.72" y2="207.99" stroke="#1E1A33" stroke-width="0.9"/>
<line x1="378.75" y1="220.04" x2="378.75" y2="214.36" stroke="#1E1A33" stroke-width="0.9"/>
<line x1="376.75" y1="214.36" x2="380.75" y2="214.36" stroke="#1E1A33" stroke-width="0.9"/>
<line x1="388.78" y1="230.64" x2="388.78" y2="224.33" stroke="#1E1A33" stroke-width="0.9"/>
<line x1="386.78" y1="224.33" x2="390.78" y2="224.33" stroke="#1E1A33" stroke-width="0.9"/>
<polyline points="328.60,198.08 338.63,198.71 348.66,199.59 358.69,203.69 368.72,213.35 378.75,220.04 388.78,230.64" fill="none" stroke="#C8143E" stroke-width="1.4"/>
<circle cx="328.60" cy="198.08" r="1.85" fill="#C8143E" stroke="#8C0C2C" stroke-width="0.5"/>
<circle cx="338.63" cy="198.71" r="1.85" fill="#C8143E" stroke="#8C0C2C" stroke-width="0.5"/>
<circle cx="348.66" cy="199.59" r="1.85" fill="#C8143E" stroke="#8C0C2C" stroke-width="0.5"/>
<circle cx="358.69" cy="203.69" r="1.85" fill="#C8143E" stroke="#8C0C2C" stroke-width="0.5"/>
<circle cx="368.72" cy="213.35" r="1.85" fill="#C8143E" stroke="#8C0C2C" stroke-width="0.5"/>
<circle cx="378.75" cy="220.04" r="1.85" fill="#C8143E" stroke="#8C0C2C" stroke-width="0.5"/>
<circle cx="388.78" cy="230.64" r="1.85" fill="#C8143E" stroke="#8C0C2C" stroke-width="0.5"/>
<text class="n" x="325.00" y="179.80" font-size="9.7" text-anchor="start" font-weight="normal" fill="#222" >CD19-CAR<tspan font-size="6.98" dy="-3.49">CD7–</tspan></text>
<line x1="409.10" y1="195.40" x2="420.80" y2="195.40" stroke="#C8143E" stroke-width="1.5"/>
<circle cx="415.20" cy="195.40" r="1.85" fill="#C8143E" stroke="#8C0C2C" stroke-width="0.5"/>
<text class="n" x="423.90" y="198.10" font-size="7.5" text-anchor="start" font-weight="normal" fill="#222" >BV173</text>
<line x1="409.10" y1="208.90" x2="420.80" y2="208.90" stroke="#1F5082" stroke-width="1.5"/>
<circle cx="415.20" cy="208.90" r="1.85" fill="#1F5082" stroke="#153656" stroke-width="0.5"/>
<text class="n" x="423.90" y="211.60" font-size="7.5" text-anchor="start" font-weight="normal" fill="#222" >CCRF</text>
<line x1="448.60" y1="195.40" x2="448.60" y2="216.20" stroke="#222" stroke-width="0.9"/>
<text transform="translate(455.6,206.1) rotate(-90)" font-size="8.6" font-weight="bold" text-anchor="middle" fill="#111">****</text>
</svg></body></html>
